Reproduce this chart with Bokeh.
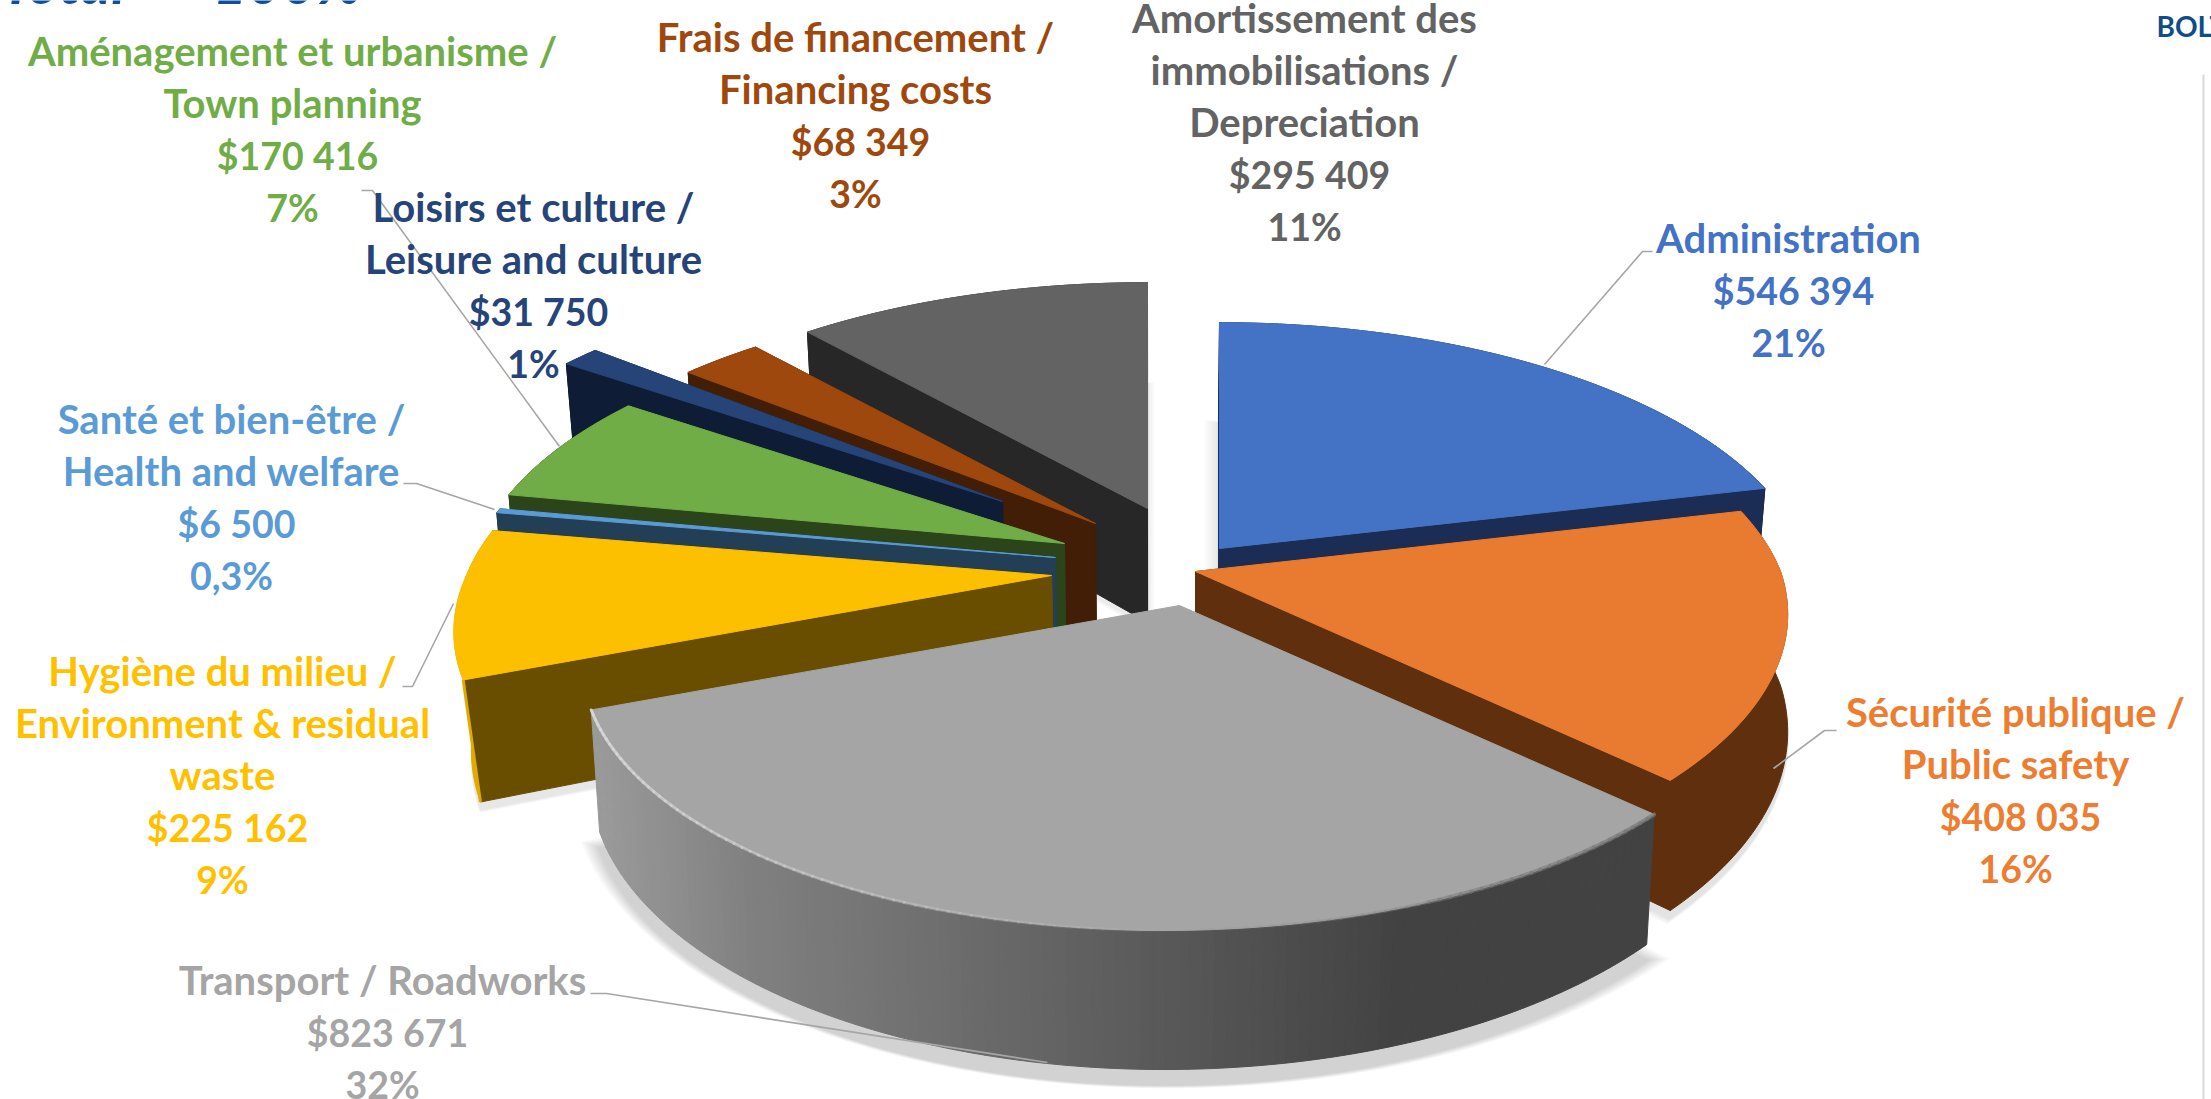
import math
from bokeh.plotting import figure
from bokeh.models import Range1d, ColumnDataSource
from bokeh.core.properties import value
from bokeh.embed import file_html
from bokeh.resources import INLINE

# ---------- data ----------
names = [
    ["Administration"],
    ["Sécurité publique /", "Public safety"],
    ["Transport / Roadworks"],
    ["Hygiène du milieu /", "Environment & residual", "waste"],
    ["Santé et bien-être /", "Health and welfare"],
    ["Aménagement et urbanisme /", "Town planning"],
    ["Loisirs et culture /", "Leisure and culture"],
    ["Frais de financement /", "Financing costs"],
    ["Amortissement des", "immobilisations /", "Depreciation"],
]
amounts = [546394, 408035, 823671, 225162, 6500, 170416, 31750, 68349, 295409]
percent_labels = ["21%", "16%", "32%", "9%", "0,3%", "7%", "1%", "3%", "11%"]

# ---------- styles ----------
top_colors = ["#4472C4", "#E97B31", "#A5A5A5", "#FCC000", "#5B9BD5", "#70AD47", "#264478", "#9E480E", "#636363"]
text_colors = ["#4472C4", "#ED7D31", "#A5A5A5", "#FFC000", "#5B9BD5", "#70AD47", "#264478", "#9E480E", "#636363"]
cut_colors = ["#1B2C55", "#5F2F0E", "#A5A5A5", "#694E00", "#233F56", "#2C4419", "#0E1C36", "#421E06", "#272727"]
wall_colors = ["#1B2C55", "#5F2F0E", "#808080", "#E0AB00", "#233F56", "#2C4419", "#0E1C36", "#421E06", "#272727"]
# explosion offset of each slice from the pie centre (pixels)
explode = [(68, -2), (44, 21), (28, 55), (-100, 25), (-96, 7), (-87, -7), (-149, -49), (-56, -27), (-4, -42)]
shrink = [0.985, 1.0, 0.985, 0.975, 0.985, 0.985, 0.985, 0.985, 0.985]
paint_order = [8, 7, 6, 5, 4, 3, 0, 1, 2]
CX, CY = 1151, 550
RX, RY, K, DEPTH, SHEAR = 585, 266.5, 0.18, 114, 15

# label anchor: centre x, y of first line, in pixels
label_pos = [(1788, 237.5), (2015, 711.5), (382, 979.5), (222, 670.5), (231, 418.5), (292, 50.5), (533, 206.5), (855, 36.5), (1304, 17.5)]
LINE_H = 52.1
AMOUNT_DX = 5
leaders = [
    ([1652, 1642, 1544], [251, 251, 364]),
    ([1836, 1824, 1773], [730, 730, 768]),
    ([590, 606, 1047], [993, 993, 1062]),
    ([402, 412, 453], [686, 686, 603]),
    ([403, 416, 494], [483, 483, 509]),
    ([361, 372, 559], [190, 190, 446]),
]

total = sum(amounts)
angles = [0.0]
for a in amounts:
    angles.append(angles[-1] + 360.0 * a / total)


def f(y):
    return 1.0 / (1.0 + K * y)


def top_pt(i, deg):
    ax, ay = CX + explode[i][0], CY + explode[i][1]
    r = math.radians(deg)
    X, Y = math.sin(r), math.cos(r)
    return ax + RX * X * f(Y) + SHEAR * min(Y, 0), ay - RY * Y * f(Y)


def bot_from(i, x, y, Y):
    return CX + (x - CX) * shrink[i], y + DEPTH * f(Y)


def bot_pt(i, deg):
    x, y = top_pt(i, deg)
    return bot_from(i, x, y, math.cos(math.radians(deg)))


def arc(i, a0, a1, fn):
    n = max(2, int(abs(a1 - a0) / 1.0) + 1)
    return [fn(i, a0 + (a1 - a0) * k / n) for k in range(n + 1)]


def apex_top(i):
    return CX + explode[i][0], CY + explode[i][1]


def apex_bot(i):
    x, y = apex_top(i)
    return bot_from(i, x, y, 0.0)


grad = [(600, (0x9a, 0x9a, 0x9a)), (750, (0x80, 0x80, 0x80)), (1150, (0x5a, 0x5a, 0x5a)),
        (1400, (0x42, 0x42, 0x42)), (1660, (0x42, 0x42, 0x42))]


def grey_at(x):
    c = grad[0][1] if x <= grad[0][0] else grad[-1][1]
    for (x0, c0), (x1, c1) in zip(grad, grad[1:]):
        if x0 <= x <= x1:
            t = (x - x0) / (x1 - x0)
            c = tuple(round(c0[j] + (c1[j] - c0[j]) * t) for j in range(3))
            break
    return "#%02x%02x%02x" % c


p = figure(width=2211, height=1099, x_range=Range1d(0, 2211), y_range=Range1d(1099, 0),
           x_axis_type=None, y_axis_type=None, toolbar_location=None, output_backend="svg",
           min_border=0, outline_line_color=None, background_fill_color="white",
           styles={"position": "absolute", "left": "0px", "top": "0px"})
p.grid.visible = False


def poly(pts, color, alpha=1.0, line=True):
    p.patch([q[0] for q in pts], [q[1] for q in pts], fill_color=color, fill_alpha=alpha,
            line_color=color if line else None, line_alpha=alpha, line_width=1)


def shadow(i, layers, step, dy, alpha):
    a0, a1 = angles[i], angles[i + 1]
    pts = [apex_bot(i)] + arc(i, a0, a1, bot_pt)
    mx = sum(q[0] for q in pts) / len(pts)
    my = sum(q[1] for q in pts) / len(pts)
    for k in range(layers, 0, -1):
        s = 1 + k * step
        poly([(mx + (q[0] - mx) * s, my + (q[1] - my) * s + dy) for q in pts], "#000000", alpha, line=False)


# soft drop shadows
shadow(2, 9, 0.0045, 16, 0.018)
shadow(1, 7, 0.006, 8, 0.015)
shadow(3, 6, 0.006, 8, 0.015)
shadow(0, 6, 0.008, 4, 0.016)
shadow(8, 5, 0.008, 4, 0.014)

# slices, back to front
for i in paint_order:
    a0, a1 = angles[i], angles[i + 1]
    top = arc(i, a0, a1, top_pt)
    bot = arc(i, a0, a1, bot_pt)
    at, ab = apex_top(i), apex_bot(i)
    if i == 2:
        xs, ys, cs = [], [], []
        for k in range(len(top) - 1):
            q = [top[k], top[k + 1], bot[k + 1], bot[k]]
            xs.append([c[0] for c in q])
            ys.append([c[1] for c in q])
            cs.append(grey_at(sum(c[0] for c in q) / 4))
        p.patches("xs", "ys", fill_color="cs", line_color="cs", line_width=1,
                  source=ColumnDataSource(dict(xs=xs, ys=ys, cs=cs)))
    else:
        poly(top + bot[::-1], wall_colors[i])
        for e in (0, -1):
            poly([at, top[e], bot[e], ab], cut_colors[i])
        if i == 3:
            p.line([top[0][0], bot[0][0]], [top[0][1], bot[0][1]], line_color=wall_colors[i], line_width=3)
    poly([at] + top, top_colors[i])

# bevel highlights on the front slice, fading along the rim
gi = 2


def rim(a0, a1, color, width, a_from, a_to):
    pts = arc(gi, a0, a1, top_pt)
    n = len(pts) - 1
    p.multi_line([[pts[k][0], pts[k + 1][0]] for k in range(n)], [[pts[k][1], pts[k + 1][1]] for k in range(n)],
                 line_color=color, line_width=width, line_cap="round",
                 line_alpha=[a_from + (a_to - a_from) * k / n for k in range(n)])


rim(angles[gi + 1], 178, "#D8D8D8", 3, 0.9, 0.0)
rim(178, 158, "#8A8A8A", 3, 0.0, 0.5)
rim(158, angles[gi], "#7A7A7A", 4, 0.5, 0.7)

# leader lines
p.multi_line([l[0] for l in leaders], [l[1] for l in leaders], line_color="#A6A6A6", line_width=1.6)

# labels
tx, ty, tt, tc, sx, sy, st, sc = [], [], [], [], [], [], [], []
for i, lines in enumerate(names):
    for j, s in enumerate(lines):
        tx.append(label_pos[i][0])
        ty.append(label_pos[i][1] + j * LINE_H)
        tt.append(s)
        tc.append(text_colors[i])
    n = len(lines)
    sx += [label_pos[i][0] + AMOUNT_DX, label_pos[i][0]]
    sy += [label_pos[i][1] + n * LINE_H, label_pos[i][1] + (n + 1) * LINE_H]
    st += ["$" + f"{amounts[i]:,}".replace(",", " "), percent_labels[i]]
    sc += [text_colors[i], text_colors[i]]
p.text("x", "y", text="t", text_color="c", source=ColumnDataSource(dict(x=tx, y=ty, t=tt, c=tc)),
       text_font=value("Lato"), text_font_style="bold", text_font_size="40px",
       text_align="center", text_baseline="middle")
p.text("x", "y", text="t", text_color="c", source=ColumnDataSource(dict(x=sx, y=sy, t=st, c=sc)),
       text_font=value("Lato"), text_font_style="bold", text_font_size="37.5px",
       text_align="center", text_baseline="middle")

# slide furniture
p.text([125], [-20], text=["Total"], text_color="#114E9A", text_font=value("Lato"),
       text_font_style="bold italic", text_font_size="60px", text_align="right", text_baseline="alphabetic")
p.text([362], [-20], text=["= 100%"], text_color="#114E9A", text_font=value("Lato"),
       text_font_style="bold italic", text_font_size="60px", text_align="right", text_baseline="alphabetic")
p.text([2156], [25], text=["BOLT"], text_color="#0F4C8A", text_font=value("Lato"),
       text_font_style="bold", text_font_size="28px", text_align="left", text_baseline="alphabetic")
p.line([2203, 2203], [74, 1099], line_color="#D9D9D9", line_width=2)

open("out.html", "w").write(file_html(p, INLINE))
